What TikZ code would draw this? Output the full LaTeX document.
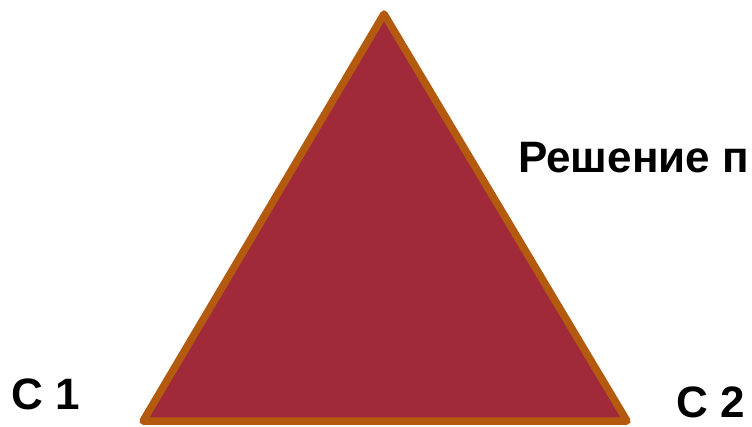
\documentclass[tikz,border=0pt]{standalone}
\usepackage{fontspec}
\setmainfont{Liberation Sans}
\definecolor{trifill}{HTML}{A12A3A}
\definecolor{triedge}{HTML}{B35A0E}
\begin{document}
\begin{tikzpicture}[x=1pt,y=-1pt,
  lbl/.style={inner sep=0pt,anchor=base west,font=\bfseries\fontsize{44}{48}\selectfont}]
\useasboundingbox (0,0) rectangle (752,426);
\draw[fill=trifill,draw=triedge,line width=7.5pt,line join=round]
  (384,14) coordinate (apex) -- (143,421) coordinate (bl) -- (627,421) coordinate (br) -- cycle;
\node[lbl] (sol) at (518,172) {Решение п};
\node[lbl] (c1) at (11,409) {C 1};
\node[lbl] (c2) at (676,417) {C 2};
\end{tikzpicture}
\end{document}
